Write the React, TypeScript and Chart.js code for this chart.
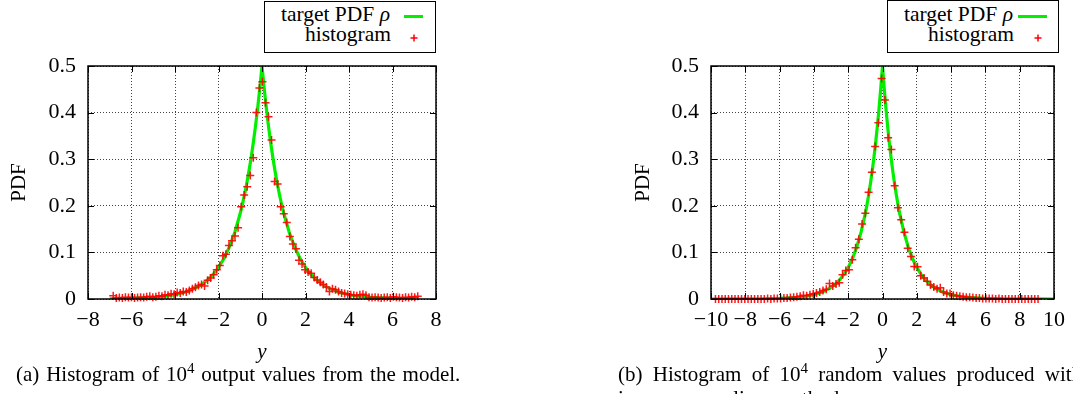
import React, { useEffect, useRef } from "react";
import { Chart, registerables } from "chart.js";
Chart.register(...registerables);

const FONT = "'Liberation Serif', 'Times New Roman', serif";

// target PDF rho (sampled curve)
const curveX = [-10, -9, -8, -7, -6, -5, -4.5, -4, -3.5, -3, -2.75, -2.5, -2.25, -2, -1.75, -1.5, -1.25, -1, -0.9, -0.8, -0.7, -0.6, -0.5, -0.4, -0.3, -0.2, -0.1, 0, 0.1, 0.2, 0.3, 0.4, 0.5, 0.6, 0.7, 0.8, 0.9, 1, 1.25, 1.5, 1.75, 2, 2.25, 2.5, 2.75, 3, 3.5, 4, 4.5, 5, 6, 7, 8, 9, 10];
const curveY = [0.00002, 0.0001, 0.0002, 0.0005, 0.0012, 0.0034, 0.0056, 0.0092, 0.0151, 0.0249, 0.032, 0.041, 0.0527, 0.0677, 0.0869, 0.1116, 0.1433, 0.1839, 0.2033, 0.2247, 0.2483, 0.2744, 0.3033, 0.3352, 0.3704, 0.4094, 0.4524, 0.5, 0.4524, 0.4094, 0.3704, 0.3352, 0.3033, 0.2744, 0.2483, 0.2247, 0.2033, 0.1839, 0.1433, 0.1116, 0.0869, 0.0677, 0.0527, 0.041, 0.032, 0.0249, 0.0151, 0.0092, 0.0056, 0.0034, 0.0012, 0.0005, 0.0002, 0.0001, 0.00002];

// (a) histogram of model outputs
const histAX = [-6.84, -6.70, -6.56, -6.42, -6.28, -6.14, -6.00, -5.86, -5.72, -5.58, -5.44, -5.30, -5.16, -5.02, -4.88, -4.74, -4.60, -4.46, -4.32, -4.18, -4.04, -3.90, -3.76, -3.62, -3.48, -3.34, -3.20, -3.06, -2.92, -2.78, -2.64, -2.50, -2.36, -2.22, -2.08, -1.94, -1.80, -1.66, -1.52, -1.38, -1.24, -1.10, -0.96, -0.82, -0.68, -0.54, -0.40, -0.26, -0.12, 0.02, 0.16, 0.30, 0.44, 0.58, 0.72, 0.86, 1.00, 1.14, 1.28, 1.42, 1.56, 1.70, 1.84, 1.98, 2.12, 2.26, 2.40, 2.54, 2.68, 2.82, 2.96, 3.10, 3.24, 3.38, 3.52, 3.66, 3.80, 3.94, 4.08, 4.22, 4.36, 4.50, 4.64, 4.78, 4.92, 5.06, 5.20, 5.34, 5.48, 5.62, 5.76, 5.90, 6.04, 6.18, 6.32, 6.46, 6.60, 6.74, 6.88, 7.02, 7.16];
const histAY = [0.007, 0.002, 0.003, 0.002, 0.004, 0.003, 0.004, 0.002, 0.003, 0.004, 0.003, 0.005, 0.006, 0.004, 0.005, 0.007, 0.006, 0.009, 0.008, 0.011, 0.010, 0.014, 0.013, 0.016, 0.015, 0.018, 0.022, 0.025, 0.029, 0.031, 0.028, 0.040, 0.045, 0.052, 0.063, 0.072, 0.093, 0.096, 0.115, 0.125, 0.135, 0.153, 0.198, 0.223, 0.241, 0.265, 0.303, 0.400, 0.453, 0.466, 0.421, 0.391, 0.341, 0.252, 0.247, 0.198, 0.183, 0.164, 0.134, 0.118, 0.108, 0.083, 0.075, 0.063, 0.058, 0.055, 0.046, 0.041, 0.036, 0.031, 0.026, 0.016, 0.022, 0.020, 0.016, 0.013, 0.012, 0.010, 0.009, 0.008, 0.007, 0.009, 0.010, 0.008, 0.004, 0.003, 0.004, 0.003, 0.002, 0.003, 0.004, 0.002, 0.005, 0.004, 0.003, 0.002, 0.004, 0.003, 0.005, 0.004, 0.006];

// (b) histogram of inverse-sampling values
const histBX = [-9.74, -9.55, -9.36, -9.17, -8.98, -8.79, -8.60, -8.41, -8.22, -8.03, -7.84, -7.65, -7.46, -7.27, -7.08, -6.89, -6.70, -6.51, -6.32, -6.13, -5.94, -5.75, -5.56, -5.37, -5.18, -4.99, -4.80, -4.61, -4.42, -4.23, -4.04, -3.85, -3.66, -3.47, -3.28, -3.09, -2.90, -2.71, -2.52, -2.33, -2.14, -1.95, -1.76, -1.57, -1.38, -1.19, -1.00, -0.81, -0.62, -0.43, -0.24, -0.05, 0.14, 0.33, 0.52, 0.71, 0.90, 1.09, 1.28, 1.47, 1.66, 1.85, 2.04, 2.23, 2.42, 2.61, 2.80, 2.99, 3.18, 3.37, 3.56, 3.75, 3.94, 4.13, 4.32, 4.51, 4.70, 4.89, 5.08, 5.27, 5.46, 5.65, 5.84, 6.03, 6.22, 6.41, 6.60, 6.79, 6.98, 7.17, 7.36, 7.55, 7.74, 7.93, 8.12, 8.31, 8.50, 8.69, 8.88, 9.07];
const histBY = [0.000, 0.000, 0.000, 0.000, 0.000, 0.000, 0.000, 0.000, 0.000, 0.000, 0.000, 0.000, 0.000, 0.000, 0.000, 0.000, 0.001, 0.000, 0.001, 0.001, 0.001, 0.002, 0.002, 0.003, 0.004, 0.005, 0.006, 0.008, 0.007, 0.009, 0.011, 0.013, 0.015, 0.018, 0.021, 0.033, 0.028, 0.032, 0.035, 0.052, 0.061, 0.063, 0.084, 0.110, 0.128, 0.161, 0.184, 0.229, 0.272, 0.327, 0.378, 0.473, 0.427, 0.346, 0.321, 0.243, 0.196, 0.170, 0.143, 0.109, 0.091, 0.070, 0.069, 0.050, 0.045, 0.038, 0.030, 0.026, 0.022, 0.024, 0.015, 0.012, 0.012, 0.008, 0.007, 0.006, 0.005, 0.004, 0.004, 0.003, 0.002, 0.002, 0.001, 0.001, 0.001, 0.001, 0.000, 0.001, 0.000, 0.000, 0.000, 0.000, 0.000, 0.000, 0.000, 0.000, 0.000, 0.000, 0.000, 0.000];

const yMin = 0, yMax = 0.5, yStep = 0.1;
const xRangeA = [-8, 8];
const xRangeB = [-10, 10];
const xStep = 2;

const fmt = (v: number) => {
  const r = Math.round(v * 10) / 10;
  return r < 0 ? "\u2212" + String(Math.abs(r)) : String(r);
};

const framePlugin = {
  id: "frame",
  afterDatasetsDraw(chart: any) {
    const { ctx, chartArea, scales } = chart;
    const { left, right, top, bottom } = chartArea;
    const t = 6;
    ctx.save();
    ctx.strokeStyle = "#000";
    ctx.lineWidth = 1;
    ctx.beginPath();
    scales.x.ticks.forEach((tk: any) => {
      const px = Math.round(scales.x.getPixelForValue(tk.value)) + 0.5;
      ctx.moveTo(px, bottom); ctx.lineTo(px, bottom - t);
      ctx.moveTo(px, top); ctx.lineTo(px, top + t);
    });
    scales.y.ticks.forEach((tk: any) => {
      const py = Math.round(scales.y.getPixelForValue(tk.value)) + 0.5;
      ctx.moveTo(left, py); ctx.lineTo(left + t, py);
      ctx.moveTo(right, py); ctx.lineTo(right - t, py);
    });
    ctx.stroke();
    ctx.lineWidth = 1.5;
    ctx.strokeRect(left, top, right - left, bottom - top);
    ctx.restore();
  },
};

function PdfChart(props: { hx: number[]; hy: number[]; xr: number[]; cutCurve: number[]; w: number; h: number; yW: number; xH: number; padR: number; padT: number; titlePad: number }) {
  const ref = useRef<HTMLCanvasElement | null>(null);
  useEffect(() => {
    if (!ref.current) return;
    const hist = props.hx.map((x, i) => ({ x, y: props.hy[i] }));
    const curve = curveX
      .map((x, i) => ({ x, y: curveY[i] }))
      .filter((p) => p.x >= props.cutCurve[0] && p.x <= props.cutCurve[1]);
    const chart = new Chart(ref.current, {
      type: "scatter",
      data: {
        datasets: [
          {
            type: "scatter",
            label: "histogram",
            data: hist,
            pointStyle: "cross",
            pointRadius: 4,
            pointBorderWidth: 1.5,
            borderColor: "rgba(255,0,0,0.9)",
            backgroundColor: "rgba(255,0,0,0.9)",
            clip: false as any,
            order: 0,
          } as any,
          {
            type: "line",
            label: "target PDF",
            data: curve,
            showLine: true,
            borderColor: "#00f000",
            borderWidth: 3.2,
            pointRadius: 0,
            tension: 0,
            order: 1,
          } as any,
        ],
      },
      options: {
        responsive: false,
        animation: false,
        devicePixelRatio: 1,
        layout: { padding: { left: 0, right: props.padR, top: props.padT, bottom: 0 } },
        plugins: { legend: { display: false }, tooltip: { enabled: false } },
        scales: {
          x: {
            type: "linear",
            min: props.xr[0],
            max: props.xr[1],
            afterFit: (s: any) => { s.height = props.xH; },
            ticks: {
              stepSize: xStep,
              autoSkip: false,
              maxRotation: 0,
              padding: 8,
              color: "#000",
              font: { family: FONT, size: 22 },
              callback: (v: any) => fmt(Number(v)),
            },
            grid: { color: "rgba(0,0,0,0.75)", lineWidth: 1, drawTicks: false },
            border: { display: false, dash: [1, 2] },
            title: {
              display: true,
              text: "y",
              color: "#000",
              font: { family: FONT, size: 21, style: "italic" },
              padding: { top: 0, bottom: 2 },
            },
          },
          y: {
            type: "linear",
            min: yMin,
            max: yMax,
            afterFit: (s: any) => { s.width = props.yW; },
            ticks: {
              stepSize: yStep,
              padding: 12,
              color: "#000",
              font: { family: FONT, size: 22 },
              callback: (v: any) => fmt(Number(v)),
            },
            grid: { color: "rgba(0,0,0,0.75)", lineWidth: 1, drawTicks: false },
            border: { display: false, dash: [1, 2] },
            title: {
              display: true,
              text: "PDF",
              color: "#000",
              font: { family: FONT, size: 21 },
              padding: { top: props.titlePad, bottom: 0 },
            },
          },
        },
      } as any,
      plugins: [framePlugin],
    });
    return () => chart.destroy();
  }, []);
  return <canvas ref={ref} width={props.w} height={props.h} style={{ width: props.w, height: props.h, display: "block" }} />;
}

function LegendBox(props: { left: number; top: number; width: number; height: number; textRight: number; lineX1: number; lineX2: number; crossX: number }) {
  const { left, top, width, height, textRight, lineX1, lineX2, crossX } = props;
  const txt: React.CSSProperties = {
    position: "absolute",
    left: 0,
    width: textRight - left,
    textAlign: "right",
    fontSize: 21.5,
    lineHeight: "20px",
    whiteSpace: "nowrap",
    fontFamily: FONT,
    color: "#000",
  };
  return (
    <div style={{ position: "absolute", left, top, width, height, border: "1px solid #000", boxSizing: "border-box", background: "#fff" }}>
      <div style={{ ...txt, top: 3.4 - top }}>target PDF <i>ρ</i></div>
      <div style={{ ...txt, top: 23.4 - top, width: textRight - left + 1 }}>histogram</div>
      <div style={{ position: "absolute", left: lineX1 - left - 1, top: 14.5 - top - 1, width: lineX2 - lineX1, height: 3, background: "#00f000" }} />
      <svg style={{ position: "absolute", left: crossX - left - 5, top: 37 - top - 5 }} width={10} height={10}>
        <line x1={1.5} y1={5} x2={8.5} y2={5} stroke="red" strokeWidth={1.5} />
        <line x1={5} y1={1.5} x2={5} y2={8.5} stroke="red" strokeWidth={1.5} />
      </svg>
    </div>
  );
}

export default function App() {
  const cap: React.CSSProperties = {
    position: "absolute",
    fontFamily: FONT,
    fontSize: 21,
    lineHeight: "24px",
    whiteSpace: "nowrap",
    color: "#000",
  };
  return (
    <div style={{ position: "fixed", left: 0, top: 0, width: 1073, height: 394, overflow: "hidden", background: "#fff" }}>
      <div style={{ position: "absolute", left: 0, top: 0 }}>
        <PdfChart hx={histAX} hy={histAY} xr={xRangeA} cutCurve={[-7, 7.2]} w={460} h={367} yW={88} xH={68} padR={24} padT={66} titlePad={7} />
      </div>
      <div style={{ position: "absolute", left: 620, top: 0 }}>
        <PdfChart hx={histBX} hy={histBY} xr={xRangeB} cutCurve={[-10, 10]} w={453} h={367} yW={91} xH={68} padR={14} padT={66} titlePad={11} />
      </div>
      <LegendBox left={264} top={1} width={172} height={52} textRight={389} lineX1={404} lineX2={423} crossX={413} />
      <LegendBox left={887} top={0} width={172} height={53} textRight={1012} lineX1={1018} lineX2={1047} crossX={1037} />
      <div style={{ ...cap, left: 16, top: 362, wordSpacing: "1.6px" }}>
        (a) Histogram of 10<sup style={{ fontSize: 15, lineHeight: 0 }}>4</sup> output values from the model.
      </div>
      <div style={{ ...cap, left: 618, top: 362, wordSpacing: "5px" }}>
        (b) Histogram of 10<sup style={{ fontSize: 15, lineHeight: 0 }}>4</sup> random values produced with
        <br />
        inverse sampling method.
      </div>
    </div>
  );
}
